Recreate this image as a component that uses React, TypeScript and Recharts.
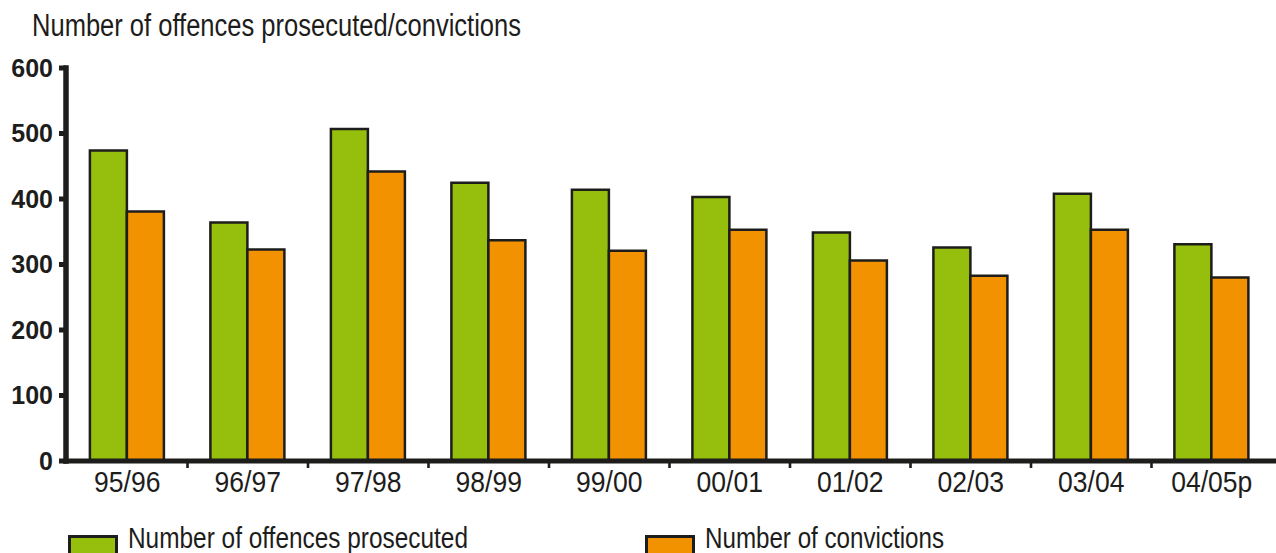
import React from 'react';
import { BarChart, Bar, XAxis, YAxis } from 'recharts';

// Financial years shown along the bottom axis
const categories = ['95/96', '96/97', '97/98', '98/99', '99/00', '00/01', '01/02', '02/03', '03/04', '04/05p'];
// Number of offences prosecuted per year
const prosecuted = [474, 364, 507, 425, 414, 403, 349, 326, 408, 331];
// Number of convictions per year
const convictions = [381, 323, 442, 337, 321, 353, 306, 283, 353, 280];
// Value axis ticks
const yTicks = [0, 100, 200, 300, 400, 500, 600];

const seriesNames = ['Number of offences prosecuted', 'Number of convictions'];
const seriesColors = ['#96BF0D', '#F39200'];

const INK = '#1d1d1b';
const SANS = '"Liberation Sans", Arial, Helvetica, sans-serif';

const data = categories.map((period, i) => ({
  period,
  prosecuted: prosecuted[i],
  convictions: convictions[i],
}));

// Period label (slightly condensed) plus a short divider tick on the boundary to the next period
function PeriodTick(props: any) {
  const { x, y, payload, index } = props;
  const half = payload && typeof payload.offset === 'number' ? payload.offset : 0;
  return (
    <g>
      <g transform={`translate(${x},${y + 31}) scale(0.915,1)`}>
        <text x={0} y={0} textAnchor="middle" fill={INK} fontFamily={SANS} fontSize={29}>
          {payload.value}
        </text>
      </g>
      {index < categories.length - 1 && half > 0 ? (
        <line x1={x + half} x2={x + half} y1={y} y2={y + 7} stroke={INK} strokeWidth={2.6} />
      ) : null}
    </g>
  );
}

export default function App() {
  return (
    <div style={{ position: 'absolute', left: 0, top: 0, width: 1276, height: 553, background: '#fff' }}>
      <BarChart
        width={1276}
        height={553}
        data={data}
        margin={{ top: 68, right: 0, bottom: 0, left: 0 }}
        barCategoryGap="19%"
        barGap={0}
      >
        <XAxis
          dataKey="period"
          height={92}
          padding={{ left: 1, right: 4 }}
          axisLine={{ stroke: INK, strokeWidth: 5, strokeLinecap: 'square' }}
          tickLine={false}
          tickSize={0}
          tickMargin={0}
          tick={<PeriodTick />}
          interval={0}
        />
        <YAxis
          width={66}
          domain={[0, 600]}
          ticks={yTicks}
          interval={0}
          axisLine={{ stroke: INK, strokeWidth: 5.5, strokeLinecap: 'square' }}
          tickLine={{ stroke: INK, strokeWidth: 5 }}
          tickSize={7}
          tickMargin={6}
          tick={{ fill: INK, fontFamily: SANS, fontSize: 25, fontWeight: 700 }}
        />
        <Bar
          dataKey="prosecuted"
          name={seriesNames[0]}
          fill={seriesColors[0]}
          stroke={INK}
          strokeWidth={2.5}
          isAnimationActive={false}
        />
        <Bar
          dataKey="convictions"
          name={seriesNames[1]}
          fill={seriesColors[1]}
          stroke={INK}
          strokeWidth={2.5}
          isAnimationActive={false}
        />
      </BarChart>
      <svg
        width={1276}
        height={553}
        style={{ position: 'absolute', left: 0, top: 0, pointerEvents: 'none' }}
      >
        <text
          x={32}
          y={36}
          fill={INK}
          fontFamily={SANS}
          fontSize={31}
          textLength={489}
          lengthAdjust="spacingAndGlyphs"
        >
          Number of offences prosecuted/convictions
        </text>
        {seriesNames.map((name, i) => {
          const sx = i === 0 ? 69.5 : 646.5;
          const tw = i === 0 ? 340 : 239;
          return (
            <g key={name}>
              <rect x={sx} y={536.5} width={47} height={18} fill={seriesColors[i]} stroke={INK} strokeWidth={3} />
              <text
                x={sx + 58.5}
                y={548}
                fill={INK}
                fontFamily={SANS}
                fontSize={29.5}
                textLength={tw}
                lengthAdjust="spacingAndGlyphs"
              >
                {name}
              </text>
            </g>
          );
        })}
      </svg>
    </div>
  );
}
